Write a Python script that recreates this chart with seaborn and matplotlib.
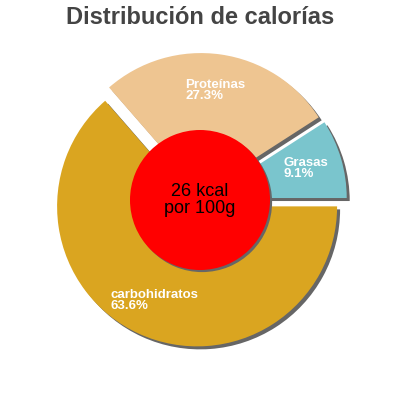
import matplotlib

matplotlib.use("Agg")
import matplotlib.pyplot as plt
import numpy as np
import seaborn as sns

sns.set_theme(style="white")
plt.rcParams["font.family"] = ["Liberation Sans", "DejaVu Sans"]

# data
categories = ["Grasas", "Proteínas", "carbohidratos"]
percents = [9.1, 27.3, 63.6]
colors = ["#7AC5CD", "#EEC591", "#DAA520"]
title = "Distribución de calorías"
center_text = "26 kcal\npor 100g"

explode = [0.05] * len(percents)
shadow_off = 3 / 140
shadow_col = "#666666"
no_edge = {"linewidth": 0}

fig = plt.figure(figsize=(4, 4), dpi=100)
ax = fig.add_axes([0, 0, 1, 1])
lim = 200 / 140

# shadows first, then the slices on top
ax.pie(percents, explode=explode, startangle=0, counterclock=True,
       colors=[shadow_col] * 3, center=(shadow_off, -shadow_off), wedgeprops=no_edge)
ax.pie(percents, explode=explode, startangle=0, counterclock=True,
       colors=colors, wedgeprops=no_edge)

# red centre disc with its own shadow
ax.pie([1], radius=0.5, colors=[shadow_col],
       center=(shadow_off * 0.7, -shadow_off * 0.7), wedgeprops=no_edge)
ax.pie([1], radius=0.5, colors=["#FF0000"], wedgeprops=no_edge)
ax.text(0, 0, center_text, ha="center", va="center", fontsize=13,
        color="black", linespacing=0.95)

# slice labels
cum = np.cumsum([0] + percents)
for name, p, a0, a1 in zip(categories, percents, cum[:-1], cum[1:]):
    mid = np.deg2rad((a0 + a1) / 2 * 3.6)
    r = 0.79
    ax.text(r * np.cos(mid), r * np.sin(mid), f"{name}\n{p:.1f}%",
            ha="center", va="center", multialignment="left",
            fontsize=9.5, fontweight="bold", color="white", linespacing=0.9)

ax.set_xlim(-lim, lim)
ax.set_ylim(-lim, lim)
ax.set_aspect("equal")
ax.axis("off")

fig.text(0.5, 1 - 17 / 400, title, ha="center", va="center",
         fontsize=17, fontweight="bold", color="#444444")

fig.savefig("out.png", dpi=100)
plt.close(fig)
